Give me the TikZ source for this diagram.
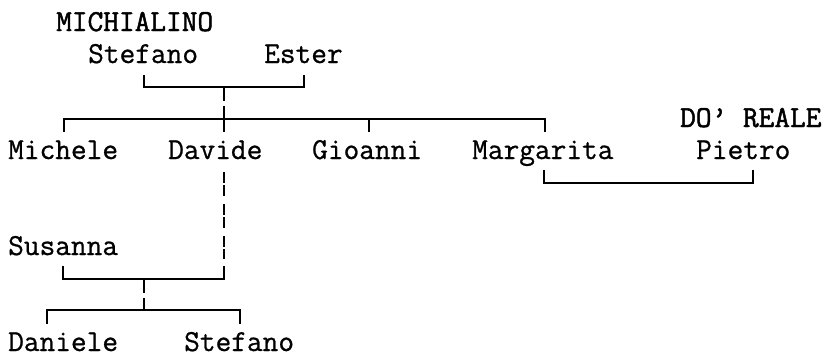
\documentclass[tikz,border=0pt]{standalone}
\usepackage{fontspec}
\newfontfamily\treefont{Latin Modern Mono}[FakeBold=0.8]
\newfontfamily\famfont{Latin Modern Mono}[FakeBold=1.6]
\begin{document}
\begin{tikzpicture}[x=1pt,y=-1pt,
  person/.style={anchor=base west, inner sep=0pt, font=\treefont\fontsize{30.48pt}{32pt}\selectfont},
  surname/.style={anchor=base west, inner sep=0pt, font=\famfont\fontsize{30.48pt}{32pt}\selectfont},
  link/.style={line width=1.4pt, line cap=butt, line join=miter},
  dashlink/.style={link, dash pattern=on 10.5pt off 2.5pt on 10.5pt off 8.5pt}]
\useasboundingbox[fill=white] (0,0) rectangle (828,354);
% names
\node[surname] (fam1) at (56,31) {MICHIALINO};
\node[person] (stef1) at (88,63) {Stefano};
\node[person] (ester) at (264,63) {Ester};
\node[surname] (fam2) at (680,127) {DO’ REALE};
\node[person] (mich) at (8,159) {Michele};
\node[person] (dav) at (168,159) {Davide};
\node[person] (gio) at (312,159) {Gioanni};
\node[person] (marg) at (472,159) {Margarita};
\node[person] (piet) at (696,159) {Pietro};
\node[person] (sus) at (8,255) {Susanna};
\node[person] (dan) at (8,351) {Daniele};
\node[person] (stef2) at (184,351) {Stefano};
% coordinates
\coordinate (sA) at (144,75);
\coordinate (eA) at (304,75);
\coordinate (p1) at (224,87);
\coordinate (p1a) at (224,101);
\coordinate (p1b) at (224,106);
\coordinate (dB) at (224,132);
\coordinate (mB) at (64,132);
\coordinate (gT) at (369,119);
\coordinate (gB) at (369,132);
\coordinate (maB) at (545,132);
\coordinate (maT) at (544,170);
\coordinate (piT) at (753,170);
\coordinate (dvT) at (224,172);
\coordinate (dvB) at (224,259);
\coordinate (suT) at (63,266);
\coordinate (dvC) at (224,266);
\coordinate (p2) at (144,279);
\coordinate (p2a) at (144,293);
\coordinate (p2b) at (144,298);
\coordinate (p3) at (144,310);
\coordinate (daB) at (47,324);
\coordinate (st2B) at (240,324);
% connectors
\draw[link] (sA) |- (p1) -| (eA);
\draw[link] (p1) -- (p1a);
\draw[link] (p1b) -- (dB);
\draw[link] (mB) |- (gT) -| (maB);
\draw[link] (gT) -- (gB);
\draw[link] (maT) |- (753,183) -- (piT);
\draw[dashlink] (dvT) -- (dvB);
\draw[link] (suT) |- (p2) -| (dvC);
\draw[link] (p2) -- (p2a);
\draw[link] (p2b) -- (p3);
\draw[link] (daB) |- (p3) -| (st2B);
\end{tikzpicture}
\end{document}
